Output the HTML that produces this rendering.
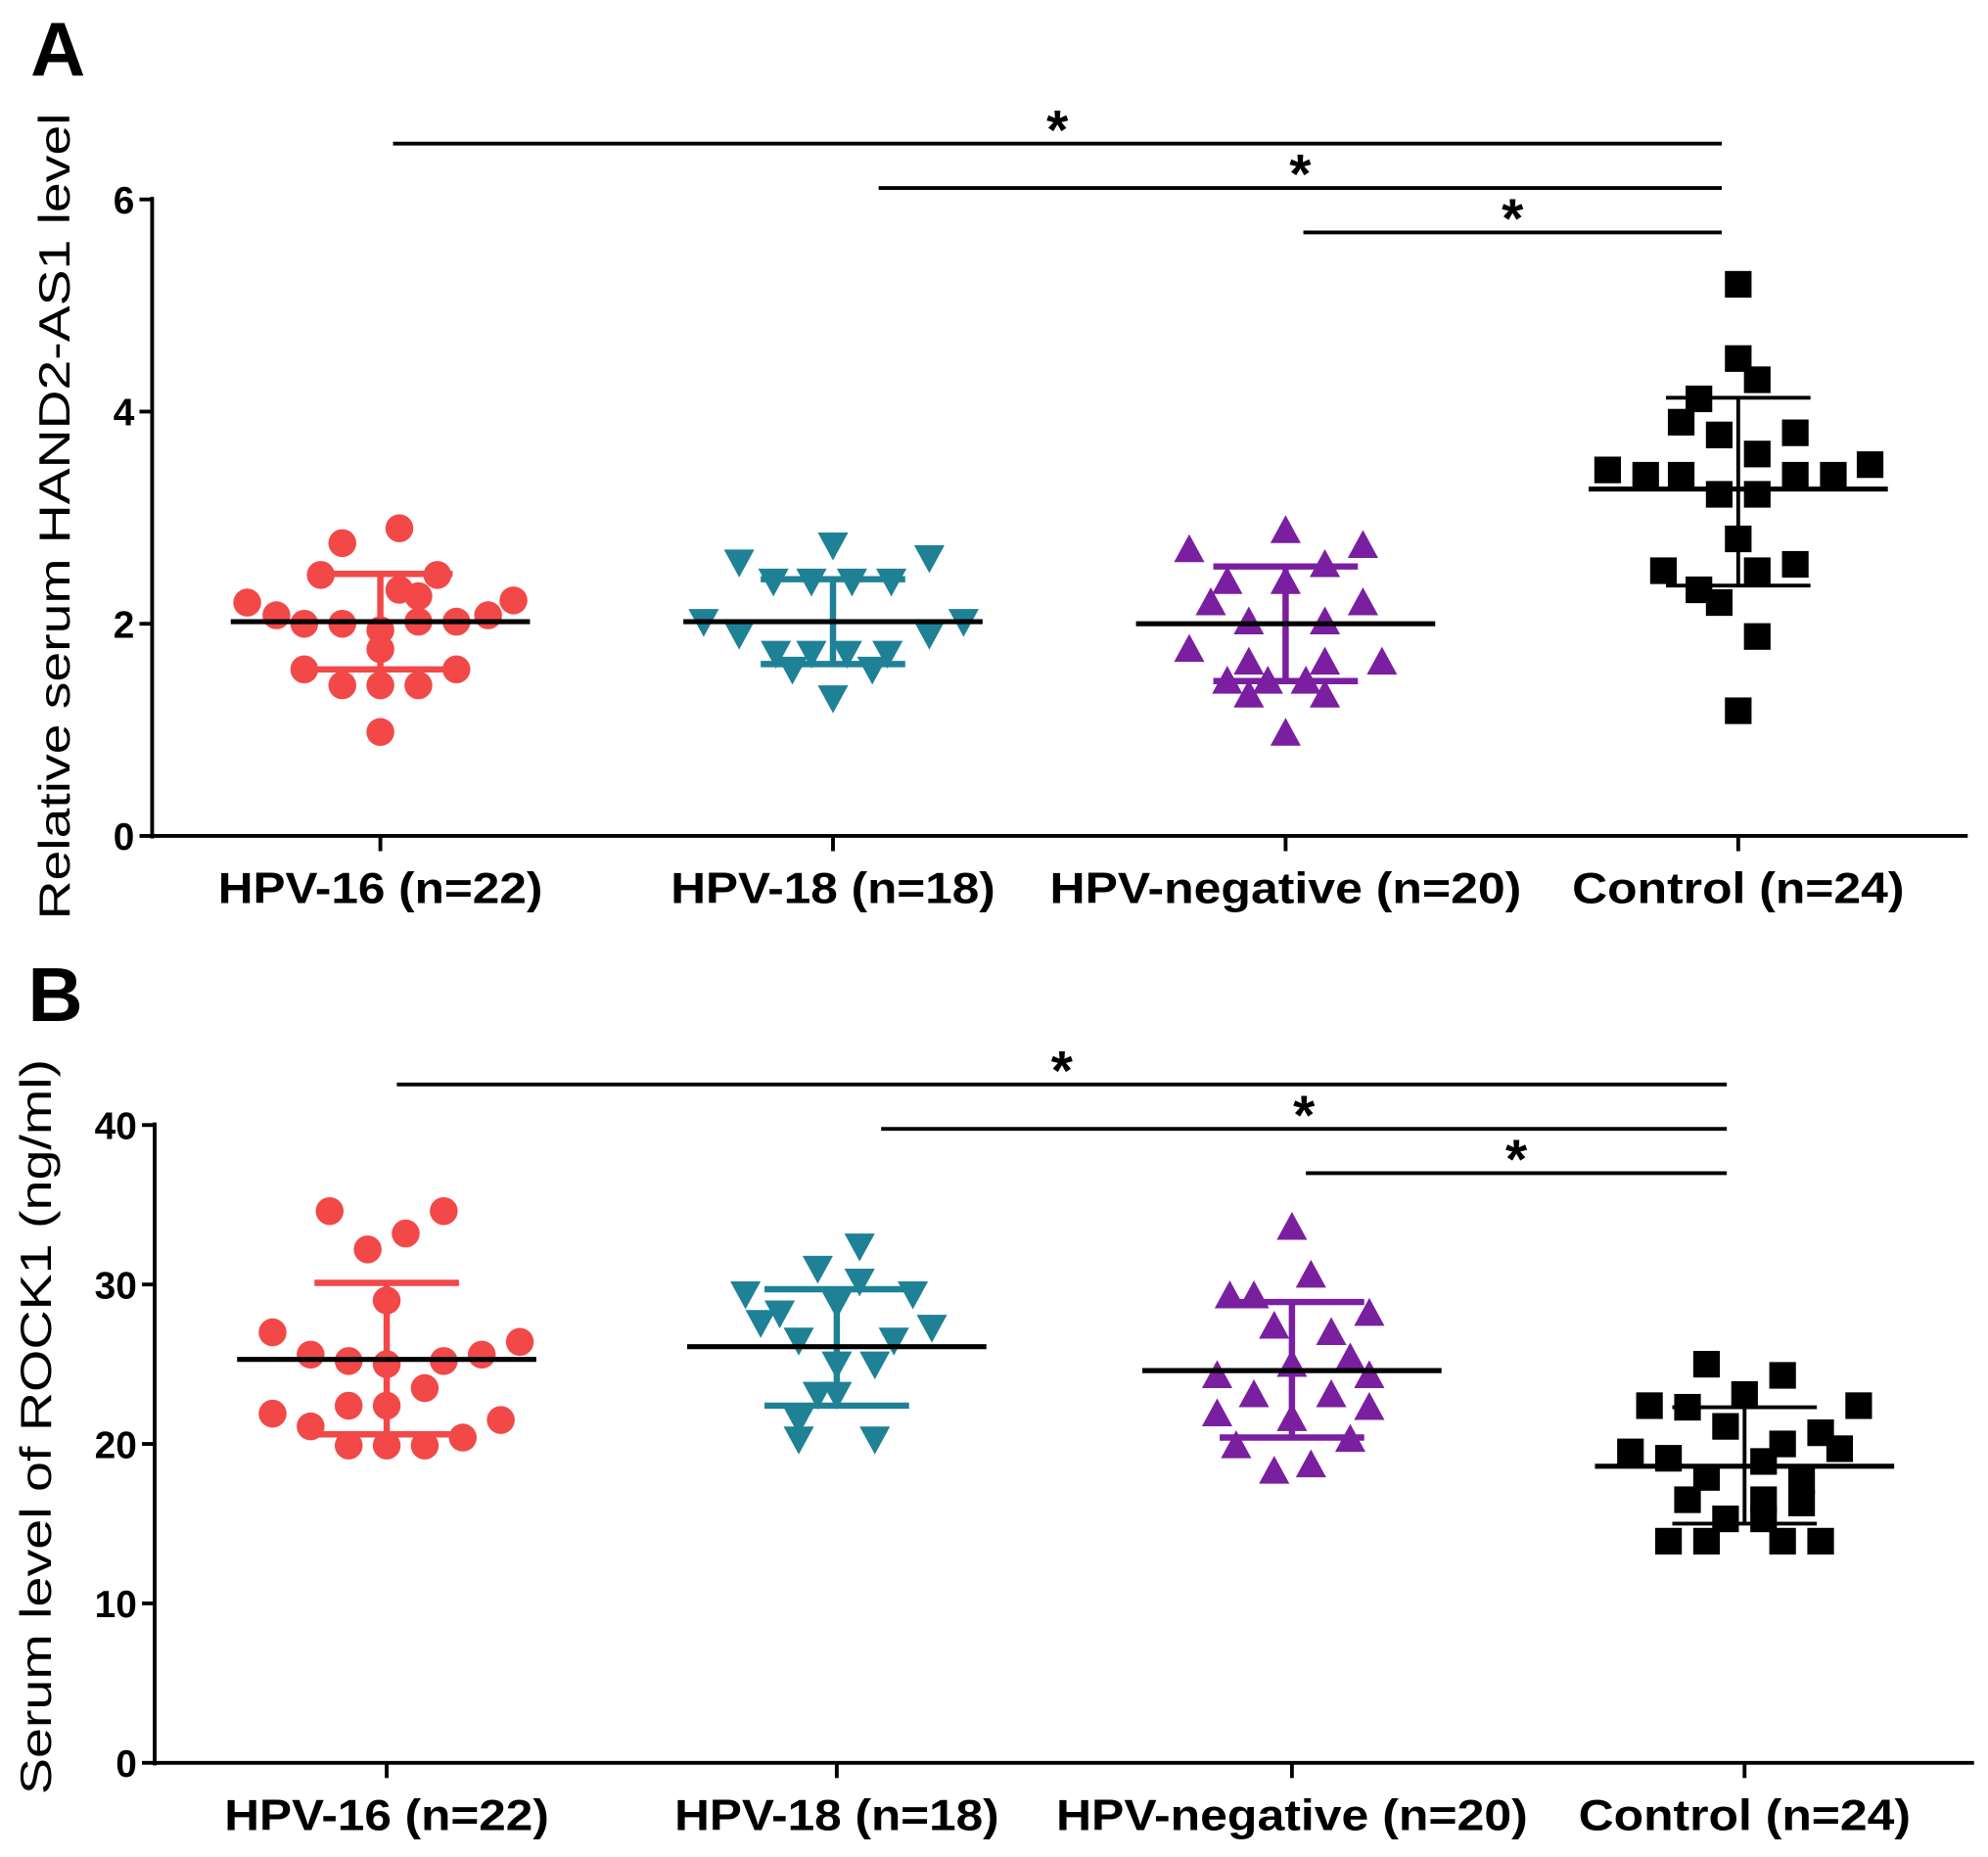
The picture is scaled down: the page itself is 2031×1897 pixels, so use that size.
<!DOCTYPE html>
<html><head><meta charset="utf-8"><style>
html,body{margin:0;padding:0;background:#fff}
svg{display:block}
text{font-family:"Liberation Sans",Arial,sans-serif}
</style></head><body>
<svg id="fig" width="2031" height="1897" viewBox="0 0 1568 1464" xmlns="http://www.w3.org/2000/svg"></svg>
<script>
// ---- data ----
const categories = ["HPV-16 (n=22)","HPV-18 (n=18)","HPV-negative (n=20)","Control (n=24)"];
const colors = ["#f24848","#1f8196","#7a1fa0","#000000"];
const markers = ["circle","tri-down","tri-up","square"];
// Panel A values
const aTicks = [0,2,4,6];
const aHpv16 = [2.9,2.76,2.46,2.46,2.32,2.2,2.22,2.08,2.0,2.0,1.94,2.02,2.02,2.08,1.76,1.57,1.57,1.42,1.42,1.42,0.98,2.26];
const aHpv16J = [15,-30,-47,45,15,-105,105,-82,-60,-30,0,30,60,85,0,-60,60,-30,0,30,0,30];
const aHpv18 = [2.74,2.58,2.62,2.4,2.4,2.4,2.4,2.02,2.02,1.9,1.9,1.72,1.72,1.72,1.72,1.57,1.57,1.3];
const aHpv18J = [0,-74,76,-47,-17,15,46,-102,103,-74,76,-45,-17,11,43,-32,31,0];
const aNeg = [2.88,2.7,2.74,2.56,2.4,2.4,2.2,2.2,2.02,2.02,1.76,1.64,1.64,1.64,1.46,1.46,1.46,1.33,1.33,0.97];
const aNegJ = [0,-76,61,31,-46,0,-59,61,-29,31,-76,76,-29,31,-46,-14,16,-29,31,0];
const aCtrl = [5.2,4.5,4.3,4.12,3.9,3.8,3.78,3.6,3.45,3.4,3.4,3.4,3.4,3.5,3.22,3.22,2.8,2.56,2.5,2.5,2.32,2.2,1.88,1.18];
const aCtrlJ = [0,0,15,-31,-45,45,-15,15,-103,-73,-45,45,75,104,-15,15,0,45,-59,15,-31,-15,15,0];
const aMean = [2.02,2.02,2.0,3.27];
const aSdHi = [2.47,2.42,2.54,4.13];
const aSdLo = [1.57,1.62,1.46,2.36];
// Panel B values
const bTicks = [0,10,20,30,40];
const bHpv16 = [34.6,34.6,32.2,33.2,29.0,27.0,26.4,25.6,25.2,25.2,25.6,25.0,23.5,22.4,22.4,21.9,21.5,21.1,19.9,19.9,19.9,20.4];
const bHpv16J = [-45,45,-15,15,0,-90,105,-60,-30,45,75,0,30,-30,0,-90,90,-60,-30,0,30,60];
const bHpv18 = [32.4,31.0,30.2,29.4,29.4,28.2,28.8,27.6,27.3,26.5,26.5,25.0,25.0,23.1,23.1,21.5,20.3,20.3];
const bHpv18J = [18,-15,18,-72,60,-45,0,-60,75,-30,45,0,30,-15,0,-30,-30,30];
const bNeg = [33.6,30.6,29.3,29.3,28.2,27.4,27.0,25.4,25.0,24.3,24.3,23.1,23.1,21.9,22.3,21.6,19.9,20.3,18.3,18.7];
const bNegJ = [0,15,-49,-30,61,-14,31,46,0,-59,61,-30,31,-59,61,0,-44,46,-14,15];
const bCtrl = [25.0,24.3,22.4,23.1,22.3,22.4,21.1,20.7,20.0,19.5,19.1,19.7,18.9,17.9,17.7,16.5,16.5,16.3,15.3,15.3,13.9,13.9,13.9,13.9];
const bCtrlJ = [-30,30,-75,0,-45,90,-15,60,30,-90,-60,75,15,-30,45,-45,15,45,-15,15,-60,-30,30,60];
const bMean = [25.3,26.1,24.6,18.6];
const bSdHi = [30.1,29.7,28.9,22.3];
const bSdLo = [20.6,22.4,20.4,15.0];
const sigLabel = "*";
// -----------
const NS="http://www.w3.org/2000/svg", svg=document.getElementById('fig');
function mk(tag,attrs,parent){const e=document.createElementNS(NS,tag);for(const k in attrs)e.setAttribute(k,attrs[k]);(parent||svg).appendChild(e);return e;}

function panel(cfg){
  const g=mk('g',{});
  
  
  const y=v=>cfg.y0-(v-cfg.min)/(cfg.max-cfg.min)*(cfg.y0-cfg.yTop);
  const xc=i=>cfg.centers[i];
  // letter
  const L=mk('text',{x:cfg.lx,y:cfg.ly,'font-size':60,'font-weight':'bold'},g);L.textContent=cfg.letter;
  
  
  // axes
  const ya=mk('line',{x1:cfg.ax,y1:y(cfg.max)-2,x2:cfg.ax,y2:cfg.y0+2,stroke:'#000','stroke-width':3},g);
  
  
  const xa=mk('line',{x1:cfg.ax-1,y1:cfg.y0,x2:cfg.axEnd,y2:cfg.y0,stroke:'#000','stroke-width':3},g);
  
  
  cfg.ticks.forEach(t=>{
    mk('line',{x1:cfg.ax-10,y1:y(t),x2:cfg.ax,y2:y(t),stroke:'#000','stroke-width':3},g);
    const tx=mk('text',{x:cfg.ax-14,y:y(t)+11,'font-size':30,'font-weight':'bold','text-anchor':'end'},g);
    tx.textContent=t;
    
    
  });
  categories.forEach((c,i)=>{
    mk('line',{x1:xc(i),y1:cfg.y0,x2:xc(i),y2:cfg.y0+12,stroke:'#000','stroke-width':3},g);
    const w=[256,256,372,262][i];
    const tx=mk('text',{x:xc(i)-w/2,y:cfg.y0+53,'font-size':34,'font-weight':'bold',textLength:w,lengthAdjust:'spacingAndGlyphs'},g);
    tx.textContent=c;
    
    
  });
  const yt=mk('text',{transform:`translate(${cfg.tx},${cfg.ty}) rotate(-90)`,'font-size':34,'text-anchor':'middle',textLength:cfg.tl,lengthAdjust:'spacingAndGlyphs'},g);
  yt.textContent=cfg.title;
  
  
  // points
  cfg.series.forEach((vals,i)=>{
    const jit=cfg.jit[i], col=colors[i];
    vals.forEach((v,k)=>{
      const px=xc(i)+jit[k], py=y(v); let e;
      if(markers[i]==='circle') e=mk('circle',{cx:px,cy:py,r:11,fill:col},g);
      else if(markers[i]==='square') e=mk('rect',{x:px-10.5,y:py-10.5,width:21,height:21,fill:col},g);
      else if(markers[i]==='tri-down') e=mk('polygon',{points:`${px-12},${py-10} ${px+12},${py-10} ${px},${py+12}`,fill:col},g);
      else e=mk('polygon',{points:`${px-12},${py+10} ${px+12},${py+10} ${px},${py-12}`,fill:col},g);
      
      
    });
    // SD
    const sd=mk('path',{d:`M${xc(i)-57},${y(cfg.hi[i])}H${xc(i)+57}M${xc(i)},${y(cfg.hi[i])}V${y(cfg.lo[i])}M${xc(i)-57},${y(cfg.lo[i])}H${xc(i)+57}`,stroke:i===3?'#000':col,'stroke-width':i===3?3:5,fill:'none'},g);
    
    
    const m=mk('line',{x1:xc(i)-118,y1:y(cfg.mean[i]),x2:xc(i)+118,y2:y(cfg.mean[i]),stroke:'#000','stroke-width':4},g);
    
    
  });
  // significance bars
  cfg.sig.forEach((s,k)=>{
    const b=mk('line',{x1:s[0],y1:s[1],x2:cfg.sigEnd,y2:s[1],stroke:'#000','stroke-width':3},g);
    
    
    const a=mk('text',{x:(s[0]+cfg.sigEnd)/2,y:s[1]+4,'font-size':44,'font-weight':'bold','text-anchor':'middle'},g);
    a.textContent=sigLabel;
    
    
  });
}
panel({name:'panel-a',letter:'A',lx:24,ly:59,ax:120,axEnd:1552,y0:659,yTop:157,min:0,max:6,ticks:aTicks,
  centers:[300,657,1014,1371],title:'Relative serum HAND2-AS1 level',tx:55,ty:407,tl:636,
  series:[aHpv16,aHpv18,aNeg,aCtrl],jit:[aHpv16J,aHpv18J,aNegJ,aCtrlJ],mean:aMean,hi:aSdHi,lo:aSdLo,
  sig:[[310,113],[693,148],[1028,183]],sigEnd:1358});
panel({name:'panel-b',letter:'B',lx:22,ly:805,ax:122,axEnd:1557,y0:1390,yTop:887,min:0,max:40,ticks:bTicks,
  centers:[305,660,1019,1376],title:'Serum level of ROCK1 (ng/ml)',tx:40,ty:1125,tl:580,
  series:[bHpv16,bHpv18,bNeg,bCtrl],jit:[bHpv16J,bHpv18J,bNegJ,bCtrlJ],mean:bMean,hi:bSdHi,lo:bSdLo,
  sig:[[313,855],[695,890],[1030,925]],sigEnd:1362});
</script>
</body></html>
